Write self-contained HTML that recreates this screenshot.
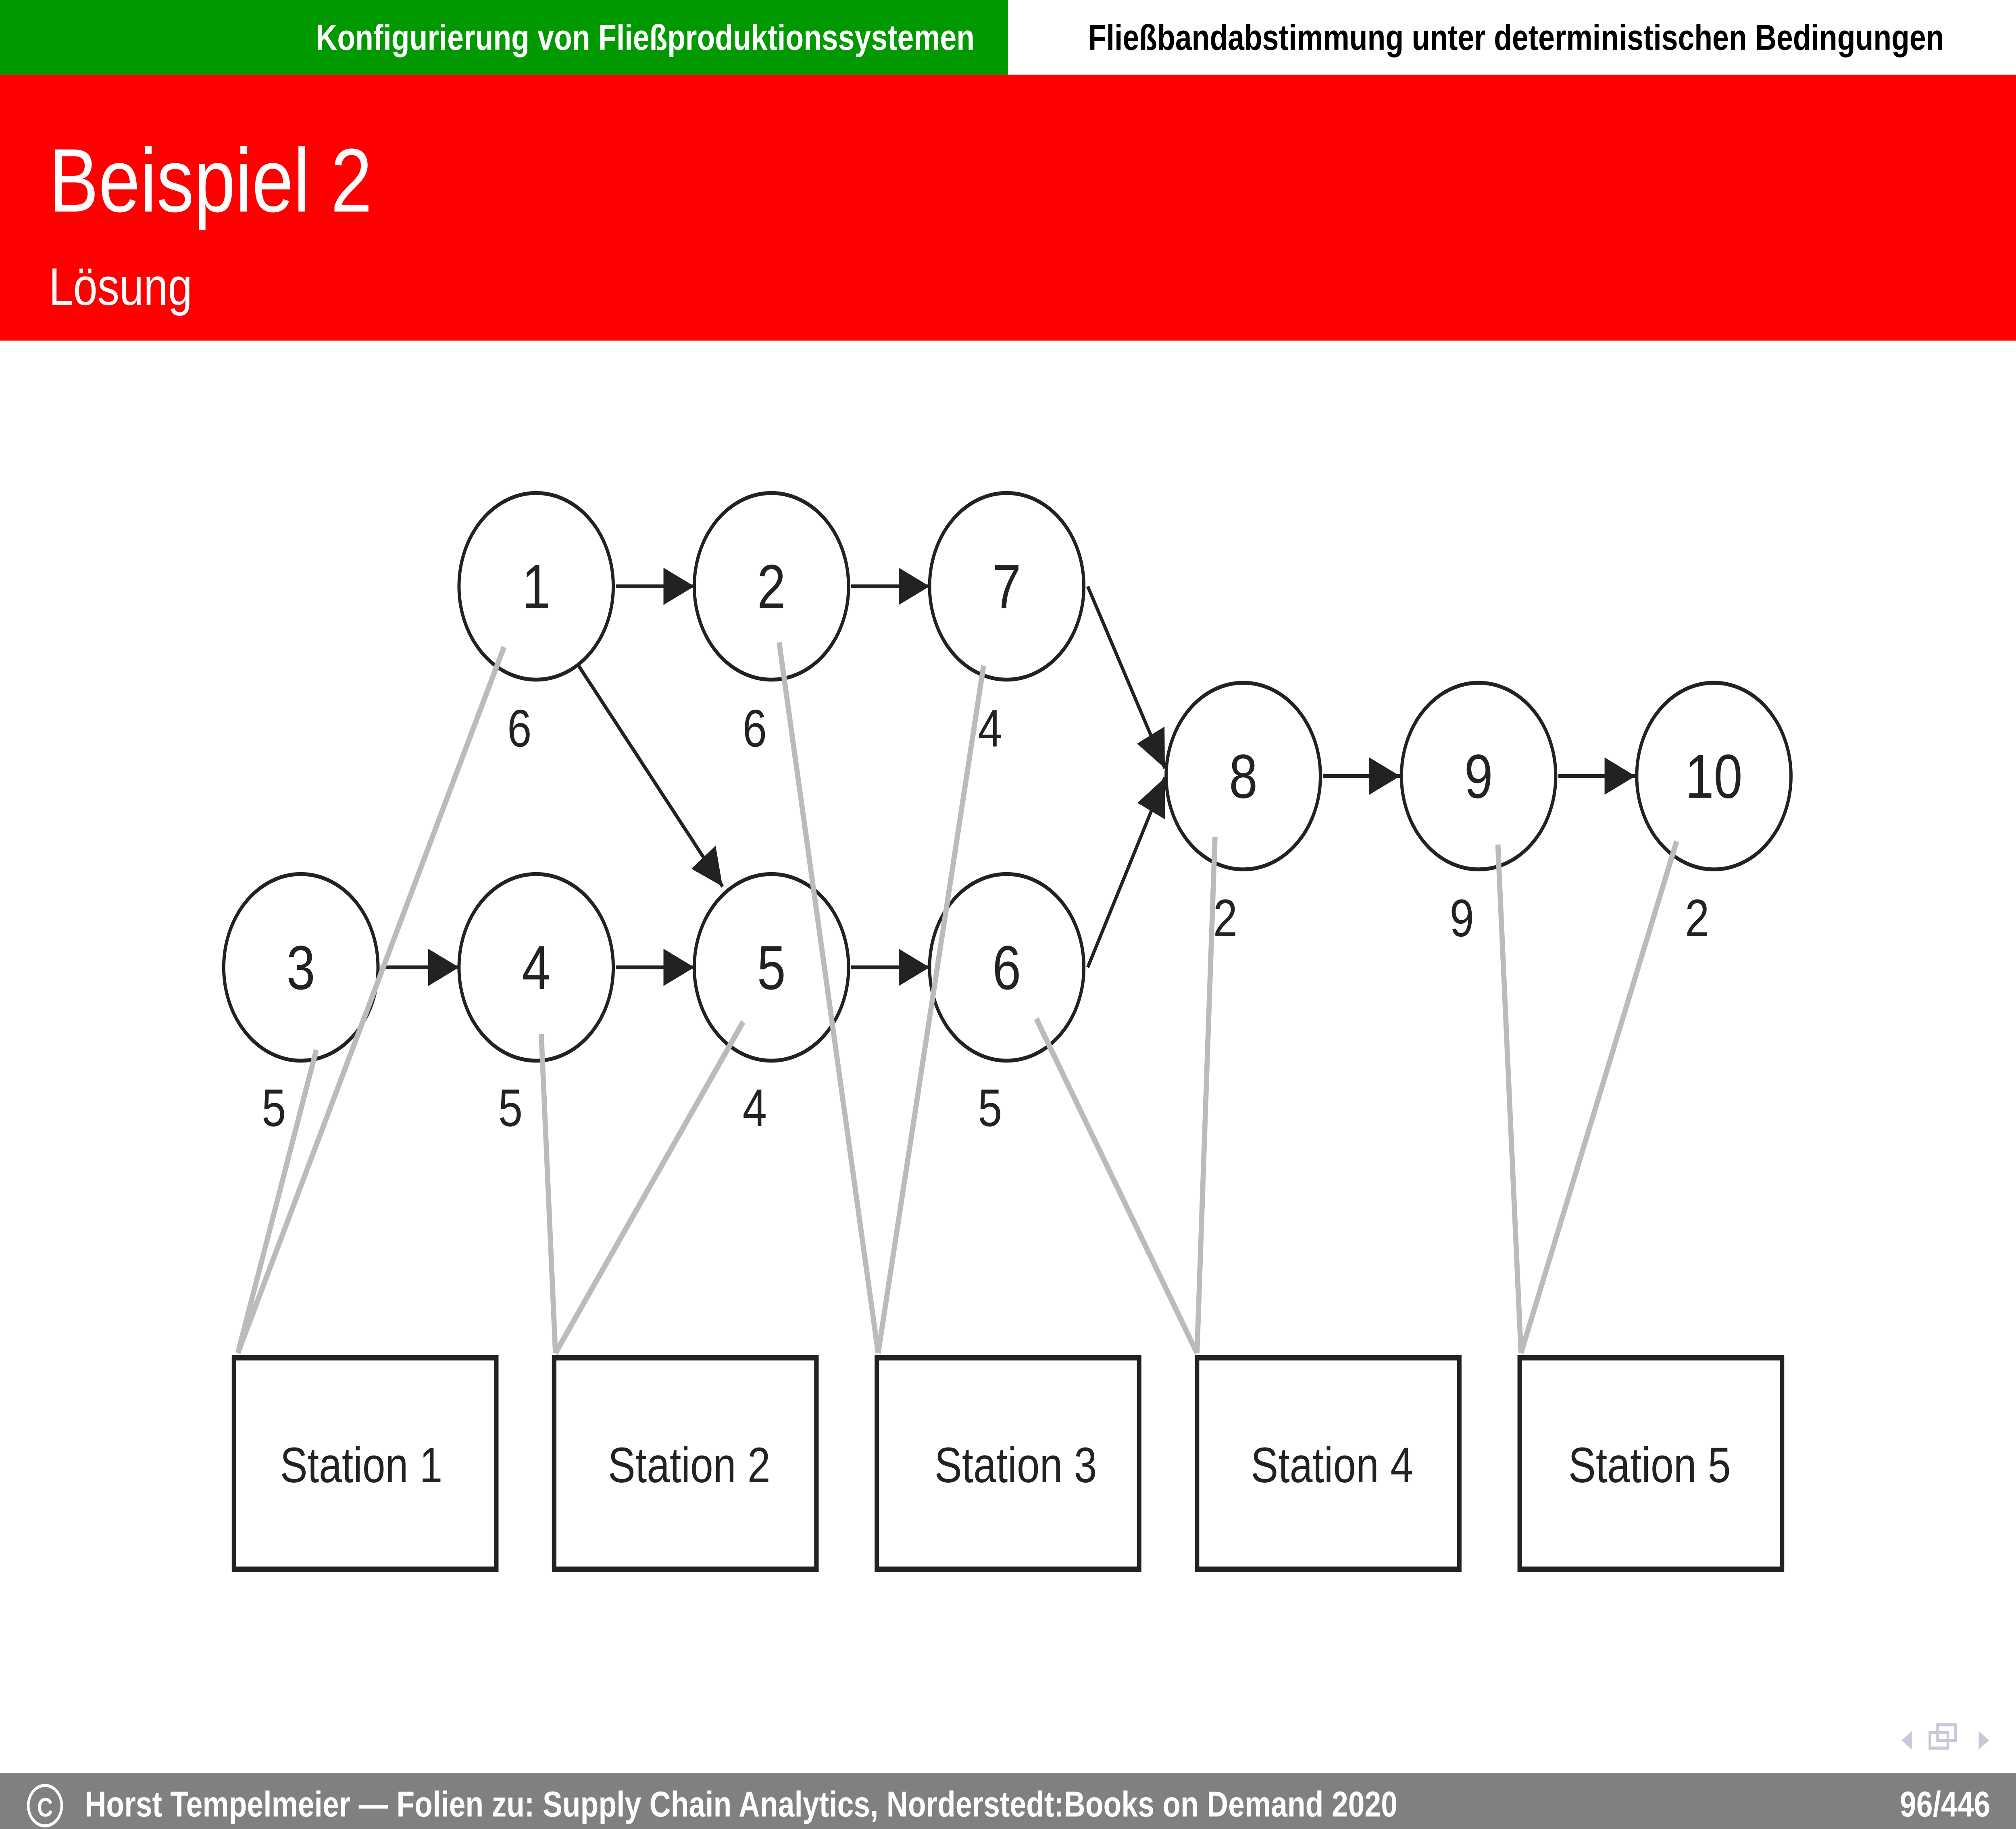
<!DOCTYPE html>
<html><head><meta charset="utf-8"><style>
html,body{margin:0;padding:0;background:#fff;overflow:hidden;width:100%;height:100%;}
svg{display:block;width:100vw;height:100vh;}
text{font-family:"Liberation Sans",sans-serif;}
</style></head><body>
<svg viewBox="0 0 1568 1176" preserveAspectRatio="none" xmlns="http://www.w3.org/2000/svg">
<defs>
<marker id="ah2" viewBox="0 0 10 10" refX="10" refY="5" markerWidth="24" markerHeight="24" orient="auto" markerUnits="userSpaceOnUse"><path d="M0,0 L10,5 L0,10 z" fill="#222"/></marker>
</defs>
<rect x="0" y="0" width="1568" height="1176" fill="#fff"/>
<rect x="0" y="0" width="784" height="48" fill="#009900"/>
<text x="758" y="32" text-anchor="end" fill="#fff" font-weight="bold" font-size="23">Konfigurierung von Fließproduktionssystemen</text>
<text x="1512" y="32" text-anchor="end" fill="#000" font-weight="bold" font-size="23">Fließbandabstimmung unter deterministischen Bedingungen</text>
<rect x="0" y="48" width="1568" height="171" fill="#ff0000"/>
<text x="38" y="136" fill="#fff" font-size="58">Beispiel 2</text>
<text x="38" y="196" fill="#fff" font-size="34">Lösung</text>

<g stroke="#222" stroke-width="2.5" fill="none" marker-end="url(#ah2)">
<line x1="479" y1="377" x2="540" y2="377"/>
<line x1="662" y1="377" x2="723" y2="377"/>
<line x1="450" y1="428" x2="562" y2="570"/>
<line x1="846" y1="377" x2="906" y2="494"/>
<line x1="846" y1="622" x2="906" y2="500"/>
<line x1="1029" y1="499" x2="1089" y2="499"/>
<line x1="1212" y1="499" x2="1272" y2="499"/>
<line x1="296" y1="622" x2="357" y2="622"/>
<line x1="479" y1="622" x2="540" y2="622"/>
<line x1="662" y1="622" x2="723" y2="622"/>
</g>

<g stroke="#222" stroke-width="2.5" fill="#fff">
<circle cx="417" cy="377" r="60"/><circle cx="600" cy="377" r="60"/><circle cx="783" cy="377" r="60"/>
<circle cx="967" cy="499" r="60"/><circle cx="1150" cy="499" r="60"/><circle cx="1333" cy="499" r="60"/>
<circle cx="234" cy="622" r="60"/><circle cx="417" cy="622" r="60"/><circle cx="600" cy="622" r="60"/><circle cx="783" cy="622" r="60"/>
</g>
<g font-size="40" fill="#222" text-anchor="middle">
<text x="417" y="391">1</text><text x="600" y="391">2</text><text x="783" y="391">7</text>
<text x="967" y="513">8</text><text x="1150" y="513">9</text><text x="1333" y="513">10</text>
<text x="234" y="636">3</text><text x="417" y="636">4</text><text x="600" y="636">5</text><text x="783" y="636">6</text>
</g>
<g font-size="34" fill="#222" text-anchor="middle">
<text x="404" y="480">6</text><text x="587" y="480">6</text><text x="770" y="480">4</text>
<text x="953" y="602">2</text><text x="1137" y="602">9</text><text x="1320" y="602">2</text>
<text x="213" y="724">5</text><text x="397" y="724">5</text><text x="587" y="724">4</text><text x="770" y="724">5</text>
</g>

<g stroke="#bbbbbb" stroke-width="4" fill="none">
<line x1="392" y1="416" x2="185" y2="870"/>
<line x1="246" y1="675" x2="185" y2="870"/>
<line x1="421" y1="665" x2="432" y2="870"/>
<line x1="578" y1="657" x2="432" y2="870"/>
<line x1="606" y1="413" x2="683" y2="870"/>
<line x1="765" y1="428" x2="683" y2="870"/>
<line x1="806" y1="655" x2="931" y2="870"/>
<line x1="945" y1="538" x2="931" y2="870"/>
<line x1="1165" y1="543" x2="1183" y2="870"/>
<line x1="1304" y1="541" x2="1183" y2="870"/>
</g>

<g stroke="#222" stroke-width="3.5" fill="#fff">
<rect x="182" y="873" width="204" height="136"/>
<rect x="431" y="873" width="204" height="136"/>
<rect x="682" y="873" width="204" height="136"/>
<rect x="931" y="873" width="204" height="136"/>
<rect x="1182" y="873" width="204" height="136"/>
</g>
<g font-size="32" fill="#222" text-anchor="middle">
<text x="281" y="953">Station 1</text>
<text x="536" y="953">Station 2</text>
<text x="790" y="953">Station 3</text>
<text x="1036" y="953">Station 4</text>
<text x="1283" y="953">Station 5</text>
</g>

<g fill="#c8c8d8">
<path d="M1487,1113 L1479,1119 L1487,1125 z"/>
<rect x="1501" y="1114" width="14" height="10" fill="none" stroke="#c8c8d8" stroke-width="2"/>
<rect x="1507" y="1109" width="14" height="10" fill="none" stroke="#c8c8d8" stroke-width="2"/>
<path d="M1539,1113 L1547,1119 L1539,1125 z"/>
</g>

<rect x="0" y="1140" width="1568" height="36" fill="#808080"/>
<circle cx="35" cy="1161" r="13" fill="none" stroke="#fff" stroke-width="2"/>
<text x="35" y="1168" text-anchor="middle" fill="#fff" font-size="17" font-weight="bold">C</text>
<text x="66" y="1168" fill="#fff" font-weight="bold" font-size="23">Horst Tempelmeier — Folien zu: Supply Chain Analytics, Norderstedt:Books on Demand 2020</text>
<text x="1548" y="1168" text-anchor="end" fill="#fff" font-weight="bold" font-size="23">96/446</text>
</svg>
</body></html>
